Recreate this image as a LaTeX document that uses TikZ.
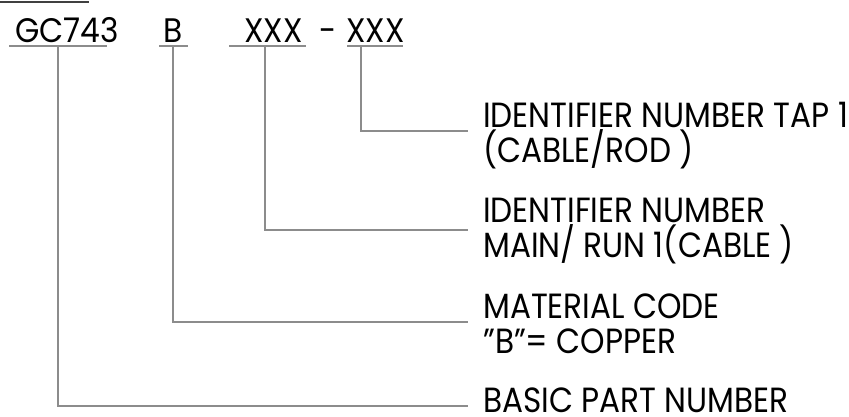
\documentclass[tikz,border=0pt]{standalone}
\usepackage{fontspec}
\setmainfont{Poppins}[FakeStretch=0.89]
\newfontfamily\codefont{Poppins}[FakeStretch=0.92]
\begin{document}
\begin{tikzpicture}[x=1pt,y=-1pt,
  lead/.style={draw=black!45, line width=1.3pt},
  lbl/.style={inner sep=0pt, anchor=base west, font=\fontsize{35}{35}\selectfont},
  code/.style={inner sep=0pt, anchor=base west, font=\codefont\fontsize{34}{34}\selectfont}]
\useasboundingbox (0,0) rectangle (849,416);
% top rule
\draw[draw=black!75, line width=1.5pt] (0,2) -- (89,2);
% code parts
\node[code] (gc) at (15,42) {GC743};
\node[code] (b) at (163,42) {B};
\node[code] (x1) at (244,42) {XXX};
\node[code] (dash) at (319,42) {-};
\node[code] (x2) at (346,42) {XXX};
% underlines
\draw[lead] (9,46) -- (107,46);
\draw[lead] (159,46) -- (188,46);
\draw[lead] (229,46) -- (306,46);
\draw[lead] (347,46) -- (403,46);
\coordinate (cgc) at (58,46);
\coordinate (cb) at (173,46);
\coordinate (cx1) at (265,46);
\coordinate (cx2) at (361,46);
% descriptions
\node[lbl] (tapA) at (483,127) {IDENTIFIER NUMBER TAP 1};
\node[lbl] (tapB) at (483,162) {(CABLE/ROD )};
\node[lbl] (mainA) at (483,222) {IDENTIFIER NUMBER};
\node[lbl] (mainB) at (483,257) {MAIN/ RUN 1(CABLE )};
\node[lbl] (matA) at (483,318) {MATERIAL CODE};
\node[lbl] (matB) at (483,353) {"B"= COPPER};
\node[lbl] (basic) at (483,412) {BASIC PART NUMBER};
% leader end points
\coordinate (etap) at (468,131);
\coordinate (emain) at (468,230);
\coordinate (emat) at (468,322);
\coordinate (ebasic) at (468,406);
% connectors
\draw[lead] (cx2) |- (etap);
\draw[lead] (cx1) |- (emain);
\draw[lead] (cb) |- (emat);
\draw[lead] (cgc) |- (ebasic);
\end{tikzpicture}
\end{document}
